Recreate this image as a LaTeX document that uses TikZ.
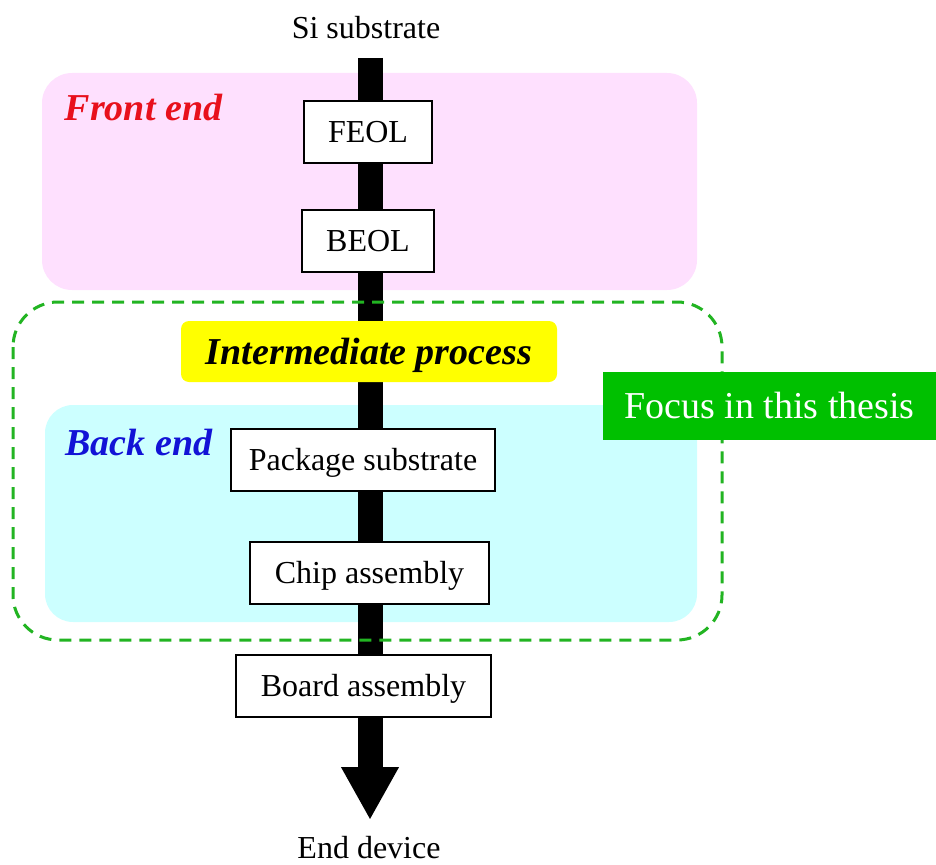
\documentclass[tikz,border=0pt]{standalone}
\usepackage{fontspec}
\setmainfont{Liberation Serif}
\usetikzlibrary{arrows.meta}
\definecolor{frontbg}{RGB}{254,224,254}
\definecolor{backbg}{RGB}{204,255,255}
\definecolor{frontred}{RGB}{232,16,28}
\definecolor{backblue}{RGB}{18,18,214}
\definecolor{focusgreen}{RGB}{0,192,0}
\definecolor{dashgreen}{RGB}{34,180,34}
\definecolor{midyellow}{RGB}{255,255,0}
\begin{document}
\begin{tikzpicture}[x=1pt,y=-1pt,
  plain/.style={inner sep=0pt, text height=21pt, text depth=0pt,
    font=\fontsize{32}{37}\selectfont},
  stagebox/.style={draw=black, line width=2pt, fill=white, inner sep=0pt,
    text height=21pt, text depth=0pt,
    minimum height=62pt, font=\fontsize{32}{37}\selectfont},
  regionlabel/.style={inner sep=0pt, text height=25pt, text depth=0pt,
    font=\fontsize{38}{44}\selectfont\bfseries\itshape},
  flowarrow/.style={line width=25pt, -{Triangle[width=54pt,length=53pt]}},
  focusbox/.style={fill=focusgreen, text=white, inner sep=0pt,
    text height=25pt, text depth=0pt,
    minimum width=333pt, minimum height=68pt, font=\fontsize{38}{44}\selectfont}
]
\useasboundingbox (0,0) rectangle (936,864);

% stage regions
\fill[frontbg, rounded corners=30pt] (42,73) rectangle (697,290);
\fill[backbg, rounded corners=28pt] (45,405) rectangle (697,622);

% start and end of the flow
\node[plain] (si) at (366,28) {Si substrate};
\node[plain] (end) at (369,848) {End device};
\coordinate (flowstart) at (370,58);
\coordinate (flowtip) at (370,820);
\draw[flowarrow] (flowstart) -- (flowtip);

% scope of the thesis
\draw[dashgreen, line width=3pt, dash pattern=on 12pt off 8pt, rounded corners=45pt]
  (13,302) rectangle (722,640);

% process steps
\node[stagebox, minimum width=128pt] (feol) at (368,132) {FEOL};
\node[stagebox, minimum width=132pt] (beol) at (368,240.5) {BEOL};
\node[fill=midyellow, rounded corners=8pt, inner sep=0pt, minimum width=376pt,
  minimum height=61pt, text height=25pt, text depth=0pt,
  font=\fontsize{38}{44}\selectfont\bfseries\itshape]
  (mid) at (369,351.5) {Intermediate process};
\node[stagebox, minimum width=264pt] (pkg) at (363,459.5) {Package substrate};
\node[stagebox, minimum width=239pt] (chip) at (369.5,573) {Chip assembly};
\node[stagebox, minimum width=255pt] (board) at (363.5,685.5) {Board assembly};

% region labels
\node[regionlabel, text=frontred] (front) at (143.5,108) {Front end};
\node[regionlabel, text=backblue] (back) at (139,443) {Back end};

% focus tag
\node[focusbox] (focus) at (769.5,406) {Focus in this thesis};
\end{tikzpicture}
\end{document}
